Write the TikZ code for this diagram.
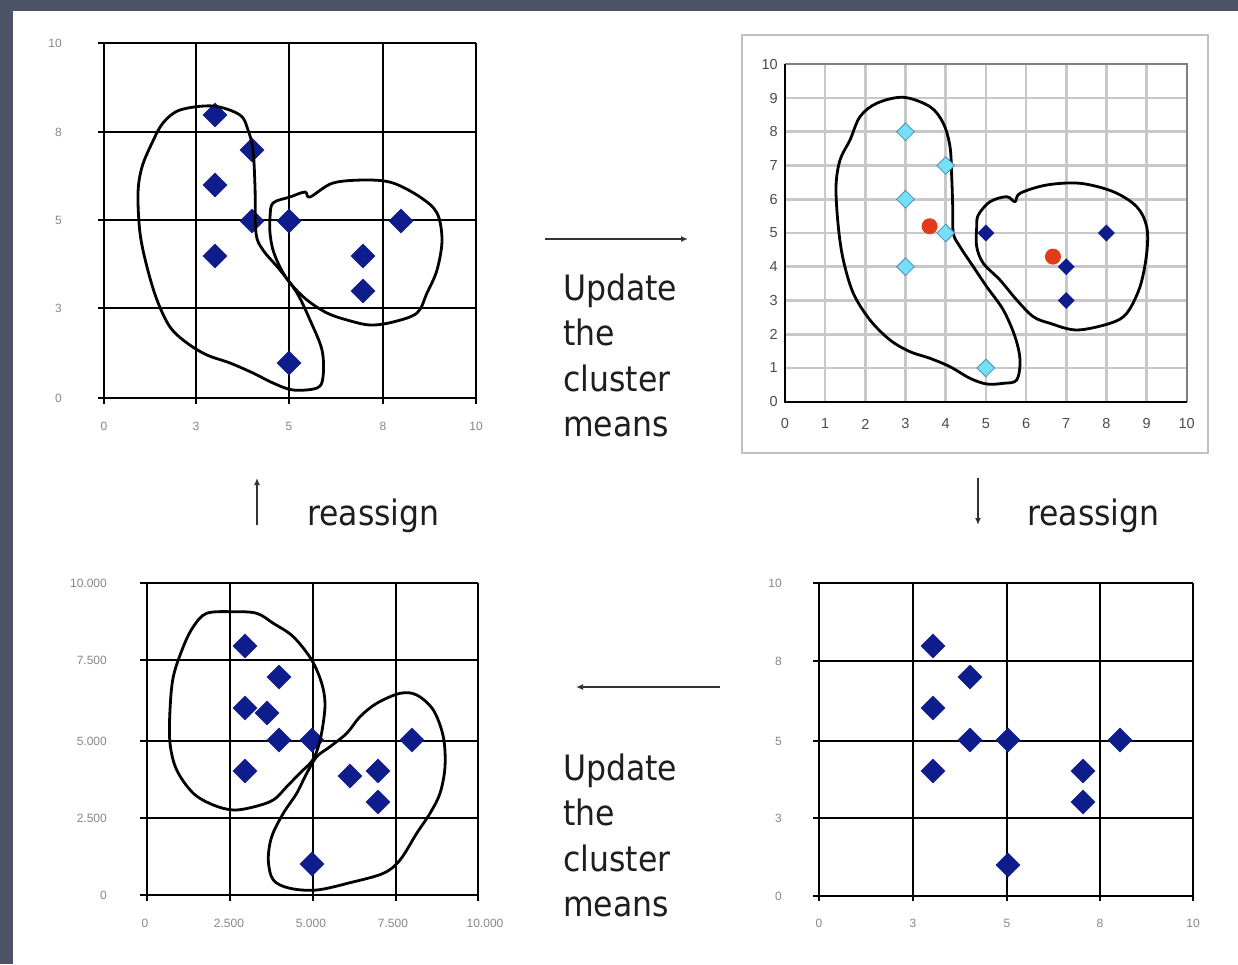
\documentclass[tikz,border=0pt]{standalone}
\usepackage{fontspec}
\setmainfont{Liberation Sans}
\newfontfamily\capfont{DejaVu Sans Condensed}
\usetikzlibrary{shapes.geometric,arrows.meta}
\definecolor{slate}{RGB}{77,83,102}
\definecolor{navy}{RGB}{14,28,140}
\definecolor{cyanpt}{RGB}{118,222,246}
\definecolor{cyanedge}{RGB}{80,140,180}
\definecolor{redpt}{RGB}{226,58,26}
\definecolor{labgray}{RGB}{135,135,135}
\definecolor{labdark}{RGB}{75,75,75}
\definecolor{lightgrid}{RGB}{200,200,200}
\definecolor{framegray}{RGB}{192,192,192}
\definecolor{textc}{RGB}{30,30,30}
\definecolor{arrc}{RGB}{50,50,50}
\begin{document}
\begin{tikzpicture}[x=1pt,y=-1pt,
  gl/.style={line width=2pt,black},
  lg/.style={line width=2.6pt,lightgrid},
  axisline/.style={line width=2pt,black},
  dia/.style={diamond,aspect=1,fill=navy,inner sep=0pt,minimum size=25pt},
  sdia/.style={diamond,aspect=1,fill=navy,inner sep=0pt,minimum size=17pt},
  cdia/.style={diamond,aspect=1,fill=cyanpt,draw=cyanedge,line width=0.8pt,inner sep=0pt,minimum size=18pt},
  rdot/.style={circle,fill=redpt,inner sep=0pt,minimum size=16pt},
  cl/.style={line width=2.8pt,black,line join=round},
  lab/.style={text=labgray,font=\fontsize{12}{12}\selectfont,inner sep=0pt},
  labb/.style={text=labgray,font=\fontsize{12}{12}\selectfont,inner sep=0pt},
  labd/.style={text=labdark,font=\fontsize{14.5}{14.5}\selectfont,inner sep=0pt},
  captext/.style={font=\capfont\fontsize{35}{35}\selectfont,text=textc,anchor=base west,inner sep=0pt},
  arr/.style={line width=1.4pt,draw=arrc,-{Latex[length=7pt,width=6pt]}}
]
\useasboundingbox (0,0) rectangle (1238,964);
\fill[white] (0,0) rectangle (1238,964);
\fill[slate] (0,0) rectangle (1238,11);
\fill[slate] (0,0) rectangle (13,964);

% ---------------- Chart 1 (top left) ----------------
\foreach \x in {104,196,289,383,476} \draw[gl] (\x,43) -- (\x,404);
\foreach \y in {43,132,220,308,398} \draw[gl] (98,\y) -- (476,\y);
\foreach \y/\t in {43/10,132/8,220/5,308/3,398/0}
  \node[lab,anchor=east] (c1y\t) at (62,\y) {\t};
\foreach \x/\t in {104/0,196/3,289/5,383/8,476/10}
  \node[lab] (c1x\t) at (\x,426) {\t};
\foreach \x/\y [count=\i] in {215/115,252/150,215/185,252/221,289/221,215/256,401/221,363/256,363/291,289/363}
  \node[dia] (p1-\i) at (\x,\y) {};
\draw[cl] plot[smooth cycle,tension=0.55] coordinates {
 (213,106) (240,115) (248,130) (253,150) (255,187) (256,233) (263,250) (280,270)
 (297,293) (310,320) (322,350) (323,377) (317,388) (293,390) (273,383) (253,373)
 (230,363) (207,355) (187,343) (170,327) (157,300) (147,267) (140,233) (138,193)
 (142,167) (152,143) (163,123) (180,110)};
\draw[cl] plot[smooth cycle,tension=0.55] coordinates {
 (273,203) (290,197) (305,192) (310,197) (333,183) (367,180) (393,183) (420,197)
 (437,213) (442,240) (437,270) (427,293) (417,313) (393,322) (370,325) (347,320)
 (327,313) (307,300) (290,283) (280,267) (273,250) (270,233) (270,217)};

% ---------------- Chart 2 (top right) ----------------
\draw[framegray,line width=2.6pt] (742,35) rectangle (1208,453);
\foreach \i in {1,...,9} \draw[lg] ({785+40.17*\i},64.3) -- ({785+40.17*\i},401.7);
\foreach \i in {1,...,9} \draw[lg] (785,{401.7-33.74*\i}) -- (1186.7,{401.7-33.74*\i});
\draw[line width=2pt,gray] (785,64.3) -- (1186.7,64.3) -- (1186.7,401.7);
\draw[axisline] (785,64.3) -- (785,401.7) -- (1186.7,401.7);
\foreach \i in {0,...,10} {
  \node[labd,anchor=east] (c2y\i) at (778,{401.7-33.74*\i}) {\i};
  \node[labd] (c2x\i) at ({785+40.17*\i},424) {\i};
}
\draw[cl] plot[smooth cycle,tension=0.55] coordinates {
 (903.3,97.3) (930,106.7) (943.3,123.3) (950,146.7) (951.7,176.7) (952.7,206.7)
 (953.3,233.3) (960,246.7) (973.3,266.7) (986.7,286.7) (1003.3,310) (1015,336.7)
 (1020,360) (1016.7,380) (1003.3,383.3) (986.7,384) (970,378.3) (950,366.7)
 (930,358.3) (910,351.7) (890,340) (870,320) (853.3,293.3) (843.3,260)
 (838.3,226.7) (836,186.7) (840,160) (850,140) (860,116.7) (876.7,103.3)};
\draw[cl] plot[smooth cycle,tension=0.55] coordinates {
 (978.3,215) (990,201.7) (1006.7,196.7) (1015,201.7) (1020,193.3) (1046.7,185)
 (1080,183.3) (1113.3,191.7) (1136.7,206.7) (1146.7,226.7) (1146.7,253.3)
 (1140,286.7) (1126.7,313.3) (1110,323.3) (1076.7,330) (1050,323.3) (1033.3,316.7)
 (1016.7,300) (1000,280) (983.3,263.3) (976.7,246.7) (976.7,226.7)};
\begin{scope}[xshift=785pt,yshift=-401.7pt,x=40.17pt,y=33.74pt]
  \node[rdot] (m1) at (3.6,5.2) {};
  \node[rdot] (m2) at (6.67,4.3) {};
  \foreach \x/\y [count=\i] in {3/8,4/7,3/6,4/5,3/4,5/1}
    \node[cdia] (q\i) at (\x,\y) {};
  \foreach \x/\y [count=\i] in {5/5,8/5,7/4,7/3}
    \node[sdia] (r\i) at (\x,\y) {};
\end{scope}

% ---------------- Chart 3 (bottom left) ----------------
\foreach \x in {147,230,313,396,478} \draw[gl] (\x,583) -- (\x,901);
\foreach \y in {583,660,741,818,895} \draw[gl] (140,\y) -- (478,\y);
\foreach \y/\t [count=\i] in {583/10.000,660/7.500,741/5.000,818/2.500,895/0}
  \node[labb,anchor=east] (c3y\i) at (107,\y) {\t};
\foreach \x/\t [count=\i] in {145/0,229/2.500,311/5.000,393/7.500,485/10.000}
  \node[labb] (c3x\i) at (\x,923) {\t};
\foreach \x/\y [count=\i] in {245/646,279/677,245/708,267/713,279/740,312/740,245/771,412/740,350/776,378/771,378/802,312/864}
  \node[dia] (p3-\i) at (\x,\y) {};
\draw[cl] plot[smooth cycle,tension=0.55] coordinates {
 (206.7,613.3) (233.3,611.7) (256.7,613.3) (273.3,623.3) (293.3,636.7) (311.7,660)
 (321.7,683.3) (325,703.3) (322.7,726.7) (318.3,746.7) (312,761) (300,773)
 (286.7,786.7) (273.3,800) (253.3,807) (233.3,810) (213.3,805) (193.3,793.3)
 (176.7,770) (170,743.3) (170,710) (173.3,676.7) (183.3,646.7) (193.3,626.7)};
\draw[cl] plot[smooth cycle,tension=0.55] coordinates {
 (376.7,703.3) (400,693.3) (416.7,695) (433.3,710) (443.3,736.7) (445,766.7)
 (440,793.3) (430,813.3) (416.7,833.3) (400,860) (383.3,873.3) (350,882.7)
 (316.7,890) (290,888.3) (273.3,880) (268.3,860) (271.7,836.7) (283.3,813.3)
 (296.7,793.3) (306.7,773.3) (316.7,756.7) (330,746.7) (346.7,733.3) (360,716.7)};

% ---------------- Chart 4 (bottom right) ----------------
\foreach \x in {819,913,1007,1100,1193} \draw[gl] (\x,583) -- (\x,901);
\foreach \y in {583,661,741,818,896} \draw[gl] (813,\y) -- (1193,\y);
\foreach \y/\t in {583/10,661/8,741/5,818/3,896/0}
  \node[lab,anchor=east] (c4y\t) at (782,\y) {\t};
\foreach \x/\t in {819/0,913/3,1007/5,1100/8,1193/10}
  \node[lab] (c4x\t) at (\x,923) {\t};
\foreach \x/\y [count=\i] in {933/646,970/677,933/708,970/740,1008/740,933/771,1120/740,1083/771,1083/802,1008/865}
  \node[dia] (p4-\i) at (\x,\y) {};

% ---------------- Arrows ----------------
\coordinate (a1s) at (545,239); \coordinate (a1e) at (688,239);
\coordinate (a2s) at (720,687); \coordinate (a2e) at (576,687);
\coordinate (a3s) at (257,525); \coordinate (a3e) at (257,478);
\coordinate (a4s) at (978,478); \coordinate (a4e) at (978,525);
\draw[arr] (a1s) -- (a1e);
\draw[arr] (a2s) -- (a2e);
\draw[arr] (a3s) -- (a3e);
\draw[arr] (a4s) -- (a4e);

% ---------------- Texts ----------------
\node[captext] (t1a) at (563,300) {Update};
\node[captext] (t1b) at (563,345.5) {the};
\node[captext] (t1c) at (563,391) {cluster};
\node[captext] (t1d) at (563,436.5) {means};
\node[captext] (t2a) at (563,780) {Update};
\node[captext] (t2b) at (563,825.5) {the};
\node[captext] (t2c) at (563,871) {cluster};
\node[captext] (t2d) at (563,916.5) {means};
\node[captext] (ra) at (307,525) {reassign};
\node[captext] (rb) at (1027,525) {reassign};
\end{tikzpicture}
\end{document}
